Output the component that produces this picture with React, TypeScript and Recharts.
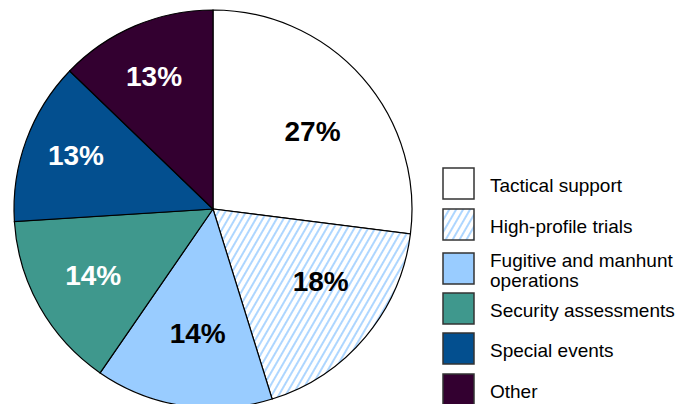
import { PieChart, Pie, Cell, Legend } from 'recharts';

const categories = [
  'Tactical support',
  'High-profile trials',
  'Fugitive and manhunt operations',
  'Security assessments',
  'Special events',
  'Other',
];
const shares = [27.0, 18.2, 14.4, 14.4, 13.2, 12.8];
const fills = ['#ffffff', 'url(#hatch)', '#99ccff', '#3f988d', '#034f8f', '#330030'];
const labelColors = ['#000000', '#000000', '#000000', '#ffffff', '#ffffff', '#ffffff'];

const data = categories.map((name, i) => ({ name, value: shares[i] }));

// small per-slice tweaks so labels sit where the original had them
const labelNudge = [
  [-2, 12],
  [4, -14],
  [5, -9],
  [-2, 0],
  [-10, -7],
  [-6, -8],
];
// legend box tops (page px)
const legendTops = [168, 209, 253, 293, 333, 374];

const RAD = Math.PI / 180;
const FONT = "'Liberation Sans', Arial, sans-serif";

function renderLabel(props: any) {
  const { cx, cy, midAngle, outerRadius, index, value } = props;
  const r = outerRadius * 0.68;
  const x = cx + r * Math.cos(-midAngle * RAD) + labelNudge[index][0];
  const y = cy + r * Math.sin(-midAngle * RAD) + labelNudge[index][1];
  return (
    <text
      x={x}
      y={y}
      fill={labelColors[index]}
      textAnchor="middle"
      dominantBaseline="central"
      fontFamily={FONT}
      fontWeight="bold"
      fontSize={28}
    >
      {Math.round(value)}%
    </text>
  );
}

function HatchPattern({ id }: { id: string }) {
  return (
    <pattern id={id} width={6} height={6} patternUnits="userSpaceOnUse" patternTransform="rotate(30)">
      <rect width={6} height={6} fill="#ffffff" />
      <line x1={1} y1={0} x2={1} y2={6} stroke="#99ccff" strokeWidth={1.6} />
    </pattern>
  );
}

function LegendBox() {
  return (
    <div style={{ position: 'relative', width: 244, height: 404, fontFamily: FONT, fontSize: 19, color: '#000' }}>
      {categories.map((name, i) => (
        <div key={name} style={{ position: 'absolute', left: 0, top: legendTops[i] - 1, height: 34 }}>
          <svg width={34} height={34} style={{ position: 'absolute', left: 0, top: 0 }}>
            <defs>
              <HatchPattern id={`lhatch${i}`} />
            </defs>
            <rect
              x={1}
              y={1}
              width={31}
              height={31}
              fill={i === 1 ? `url(#lhatch${i})` : fills[i]}
              stroke="#333"
              strokeWidth={1.5}
            />
          </svg>
          <div
            style={{
              position: 'absolute',
              left: 48,
              top: 19,
              transform: 'translateY(-50%)',
              width: 200,
              lineHeight: '20px',
            }}
          >
            {name}
          </div>
        </div>
      ))}
    </div>
  );
}

export default function App() {
  return (
    <div style={{ position: 'absolute', left: 0, top: 0, width: 685, height: 404, background: '#fff' }}>
      <PieChart width={685} height={404} margin={{ top: 0, right: 0, bottom: 0, left: 0 }}>
        <defs>
          <HatchPattern id="hatch" />
        </defs>
        <Pie
          data={data}
          dataKey="value"
          nameKey="name"
          cx={213}
          cy={209}
          outerRadius={199}
          startAngle={90}
          endAngle={-270}
          stroke="#000"
          strokeWidth={1.2}
          label={renderLabel}
          labelLine={false}
          isAnimationActive={false}
        >
          {data.map((entry, i) => (
            <Cell key={entry.name} fill={fills[i]} />
          ))}
        </Pie>
        <Legend
          content={() => <LegendBox />}
          wrapperStyle={{ position: 'absolute', left: 442, top: 0, width: 243, height: 404 }}
        />
      </PieChart>
    </div>
  );
}
